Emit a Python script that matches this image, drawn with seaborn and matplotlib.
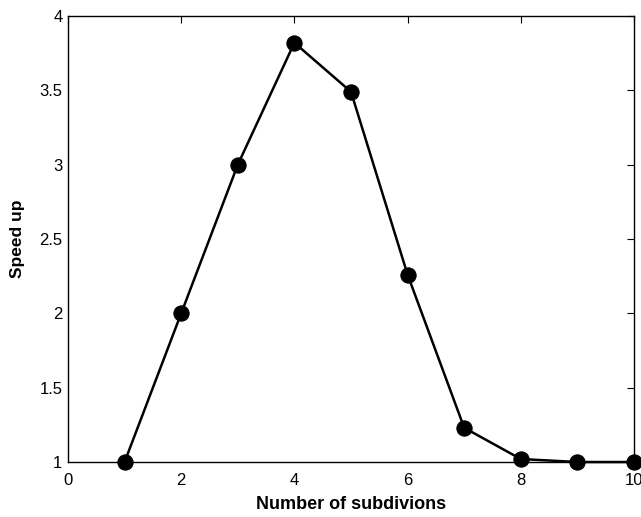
import matplotlib
matplotlib.use("Agg")
import matplotlib.pyplot as plt
import seaborn as sns
import pandas as pd

subdivisions = [1, 2, 3, 4, 5, 6, 7, 8, 9, 10]
speedup = [1.0, 2.0, 3.0, 3.82, 3.49, 2.26, 1.23, 1.02, 1.0, 1.0]
x_ticks = [0, 2, 4, 6, 8, 10]
y_ticks = [1, 1.5, 2, 2.5, 3, 3.5, 4]
y_tick_labels = ["1", "1.5", "2", "2.5", "3", "3.5", "4"]

sns.set_theme(style="white")
plt.rcParams['font.family'] = ['Liberation Sans', 'DejaVu Sans']
plt.rcParams['text.color'] = 'black'
plt.rcParams['axes.labelcolor'] = 'black'

df = pd.DataFrame({"x": subdivisions, "y": speedup})

fig = plt.figure(figsize=(6.41, 5.17), dpi=100)
ax = fig.add_axes([68/641, (517-462)/517, (634-68)/641, (462-16)/517])
sns.lineplot(data=df, x="x", y="y", ax=ax, color="black", linewidth=1.8,
             marker="o", markersize=11, markerfacecolor="black",
             markeredgecolor="black", clip_on=False, zorder=5)
ax.set_xlim(0, 10)
ax.set_ylim(1, 4)
ax.set_xticks(x_ticks)
ax.set_xticklabels([str(t) for t in x_ticks])
ax.set_yticks(y_ticks)
ax.set_yticklabels(y_tick_labels)
ax.tick_params(direction="in", length=5, width=0.8, top=True, right=True,
               labelsize=12, colors="black")
ax.tick_params(axis="x", pad=8)
ax.tick_params(axis="y", pad=4)
for s in ax.spines.values():
    s.set_visible(True)
    s.set_color("black")
    s.set_linewidth(1.0)
ax.set_xlabel("Number of subdivions", fontsize=13, fontweight="bold", labelpad=6)
ax.set_ylabel("Speed up", fontsize=12.5, fontweight="bold", labelpad=10)
fig.savefig("out.png", dpi=100)
